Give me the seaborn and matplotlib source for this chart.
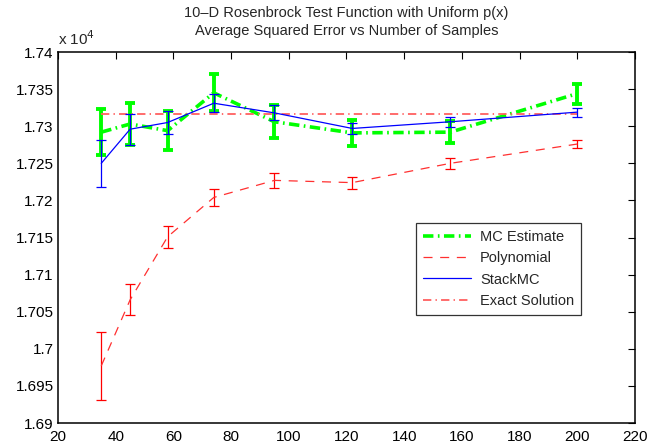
import matplotlib
matplotlib.use("Agg")
import matplotlib.pyplot as plt
import seaborn as sns
import pandas as pd
import numpy as np
from matplotlib.ticker import FuncFormatter, MultipleLocator

# ---- data ----
n_samples = [35, 45, 58, 74, 95, 122, 156, 200]

mc_mean = [17292, 17303, 17294, 17345, 17306, 17291, 17292, 17344]
mc_err = [31, 28, 26, 25, 22, 17, 15, 13.5]

poly_mean = [16977, 17066, 17151, 17204, 17227, 17224, 17250, 17276]
poly_err = [46, 21, 15, 12, 10.5, 8, 7, 6]

stack_mean = [17250, 17296, 17305, 17331, 17318, 17297, 17306, 17319]
stack_err = [32, 21, 15, 12, 10, 8, 7, 6]

exact_value = 17316.8

title_lines = ["10\u2013D Rosenbrock Test Function with Uniform p(x)",
               "Average Squared Error vs Number of Samples"]
legend_labels = ["MC Estimate", "Polynomial", "StackMC", "Exact Solution"]
x_ticks = list(range(20, 221, 20))
y_ticks = [16900, 16950, 17000, 17050, 17100, 17150, 17200, 17250, 17300, 17350, 17400]

# ---- style ----
sns.set_style("white")
plt.rcParams["font.family"] = ["Liberation Sans", "DejaVu Sans"]
plt.rcParams["lines.scale_dashes"] = False

fig = plt.figure(figsize=(6.65, 4.45), dpi=100)
ax = fig.add_axes([0.0872, 0.0494, 0.8677, 0.8337])

df_mc = pd.DataFrame({"n": n_samples, "v": mc_mean})
df_poly = pd.DataFrame({"n": n_samples, "v": poly_mean})
df_stack = pd.DataFrame({"n": n_samples, "v": stack_mean})
df_exact = pd.DataFrame({"n": [n_samples[0], n_samples[-1]],
                         "v": [exact_value, exact_value]})

green = "#00ff00"
red = "#ff0000"
blue = "#0000ff"

# MC estimate
ax.errorbar(n_samples, mc_mean, yerr=mc_err, fmt="none", ecolor=green,
            elinewidth=2.8, capsize=3.6, capthick=2.8, zorder=2)
sns.lineplot(data=df_mc, x="n", y="v", ax=ax, color=green, linewidth=2.6,
             label=legend_labels[0], zorder=2.1)
ax.lines[-1].set_dashes((7.5, 3.2, 1.2, 3.2))

# Polynomial
ax.errorbar(n_samples, poly_mean, yerr=poly_err, fmt="none", ecolor=red,
            elinewidth=0.9, capsize=3.4, capthick=0.9, zorder=3)
sns.lineplot(data=df_poly, x="n", y="v", ax=ax, color="#ff3030", linewidth=0.9,
             label=legend_labels[1], zorder=3.1)
ax.lines[-1].set_dashes((6.5, 5.5))

# StackMC
ax.errorbar(n_samples, stack_mean, yerr=stack_err, fmt="none", ecolor=blue,
            elinewidth=0.9, capsize=3.4, capthick=0.9, zorder=4)
sns.lineplot(data=df_stack, x="n", y="v", ax=ax, color=blue, linewidth=0.9,
             label=legend_labels[2], zorder=4.1)

# Exact solution
sns.lineplot(data=df_exact, x="n", y="v", ax=ax, color="#ff6060", linewidth=1.3,
             label=legend_labels[3], zorder=3.5)
ax.lines[-1].set_dashes((6.0, 3.0, 1.0, 3.0))

# ---- axes ----
ax.set_xlim(20, 220)
ax.set_ylim(16900, 17400)
ax.set_xticks(x_ticks)
ax.set_yticks(y_ticks)
ax.yaxis.set_major_formatter(FuncFormatter(lambda v, p: f"{v/1e4:g}"))
ax.set_xlabel("")
ax.set_ylabel("")
ax.tick_params(direction="in", length=5, width=0.8, top=True, right=True,
               labelsize=11, colors="black")
ax.tick_params(axis="x", pad=5)
ax.tick_params(axis="y", pad=3)
for s in ax.spines.values():
    s.set_visible(True)
    s.set_color("black")
    s.set_linewidth(1.1)

ax.text(0.0, 1.012, "x 10$^{4}$", transform=ax.transAxes, ha="left", va="bottom",
        fontsize=11)
ax.set_title("\n".join(title_lines), fontsize=10.5, pad=12.5, linespacing=1.3)

leg = ax.legend(loc="upper left", bbox_to_anchor=(0.62, 0.54), fontsize=10.5,
                handlelength=3.3, frameon=True, fancybox=False, borderpad=0.5,
                labelspacing=0.5, handletextpad=0.6, borderaxespad=0)
leg.get_frame().set_edgecolor("black")
leg.get_frame().set_linewidth(0.9)

fig.savefig("out.png", dpi=100)
